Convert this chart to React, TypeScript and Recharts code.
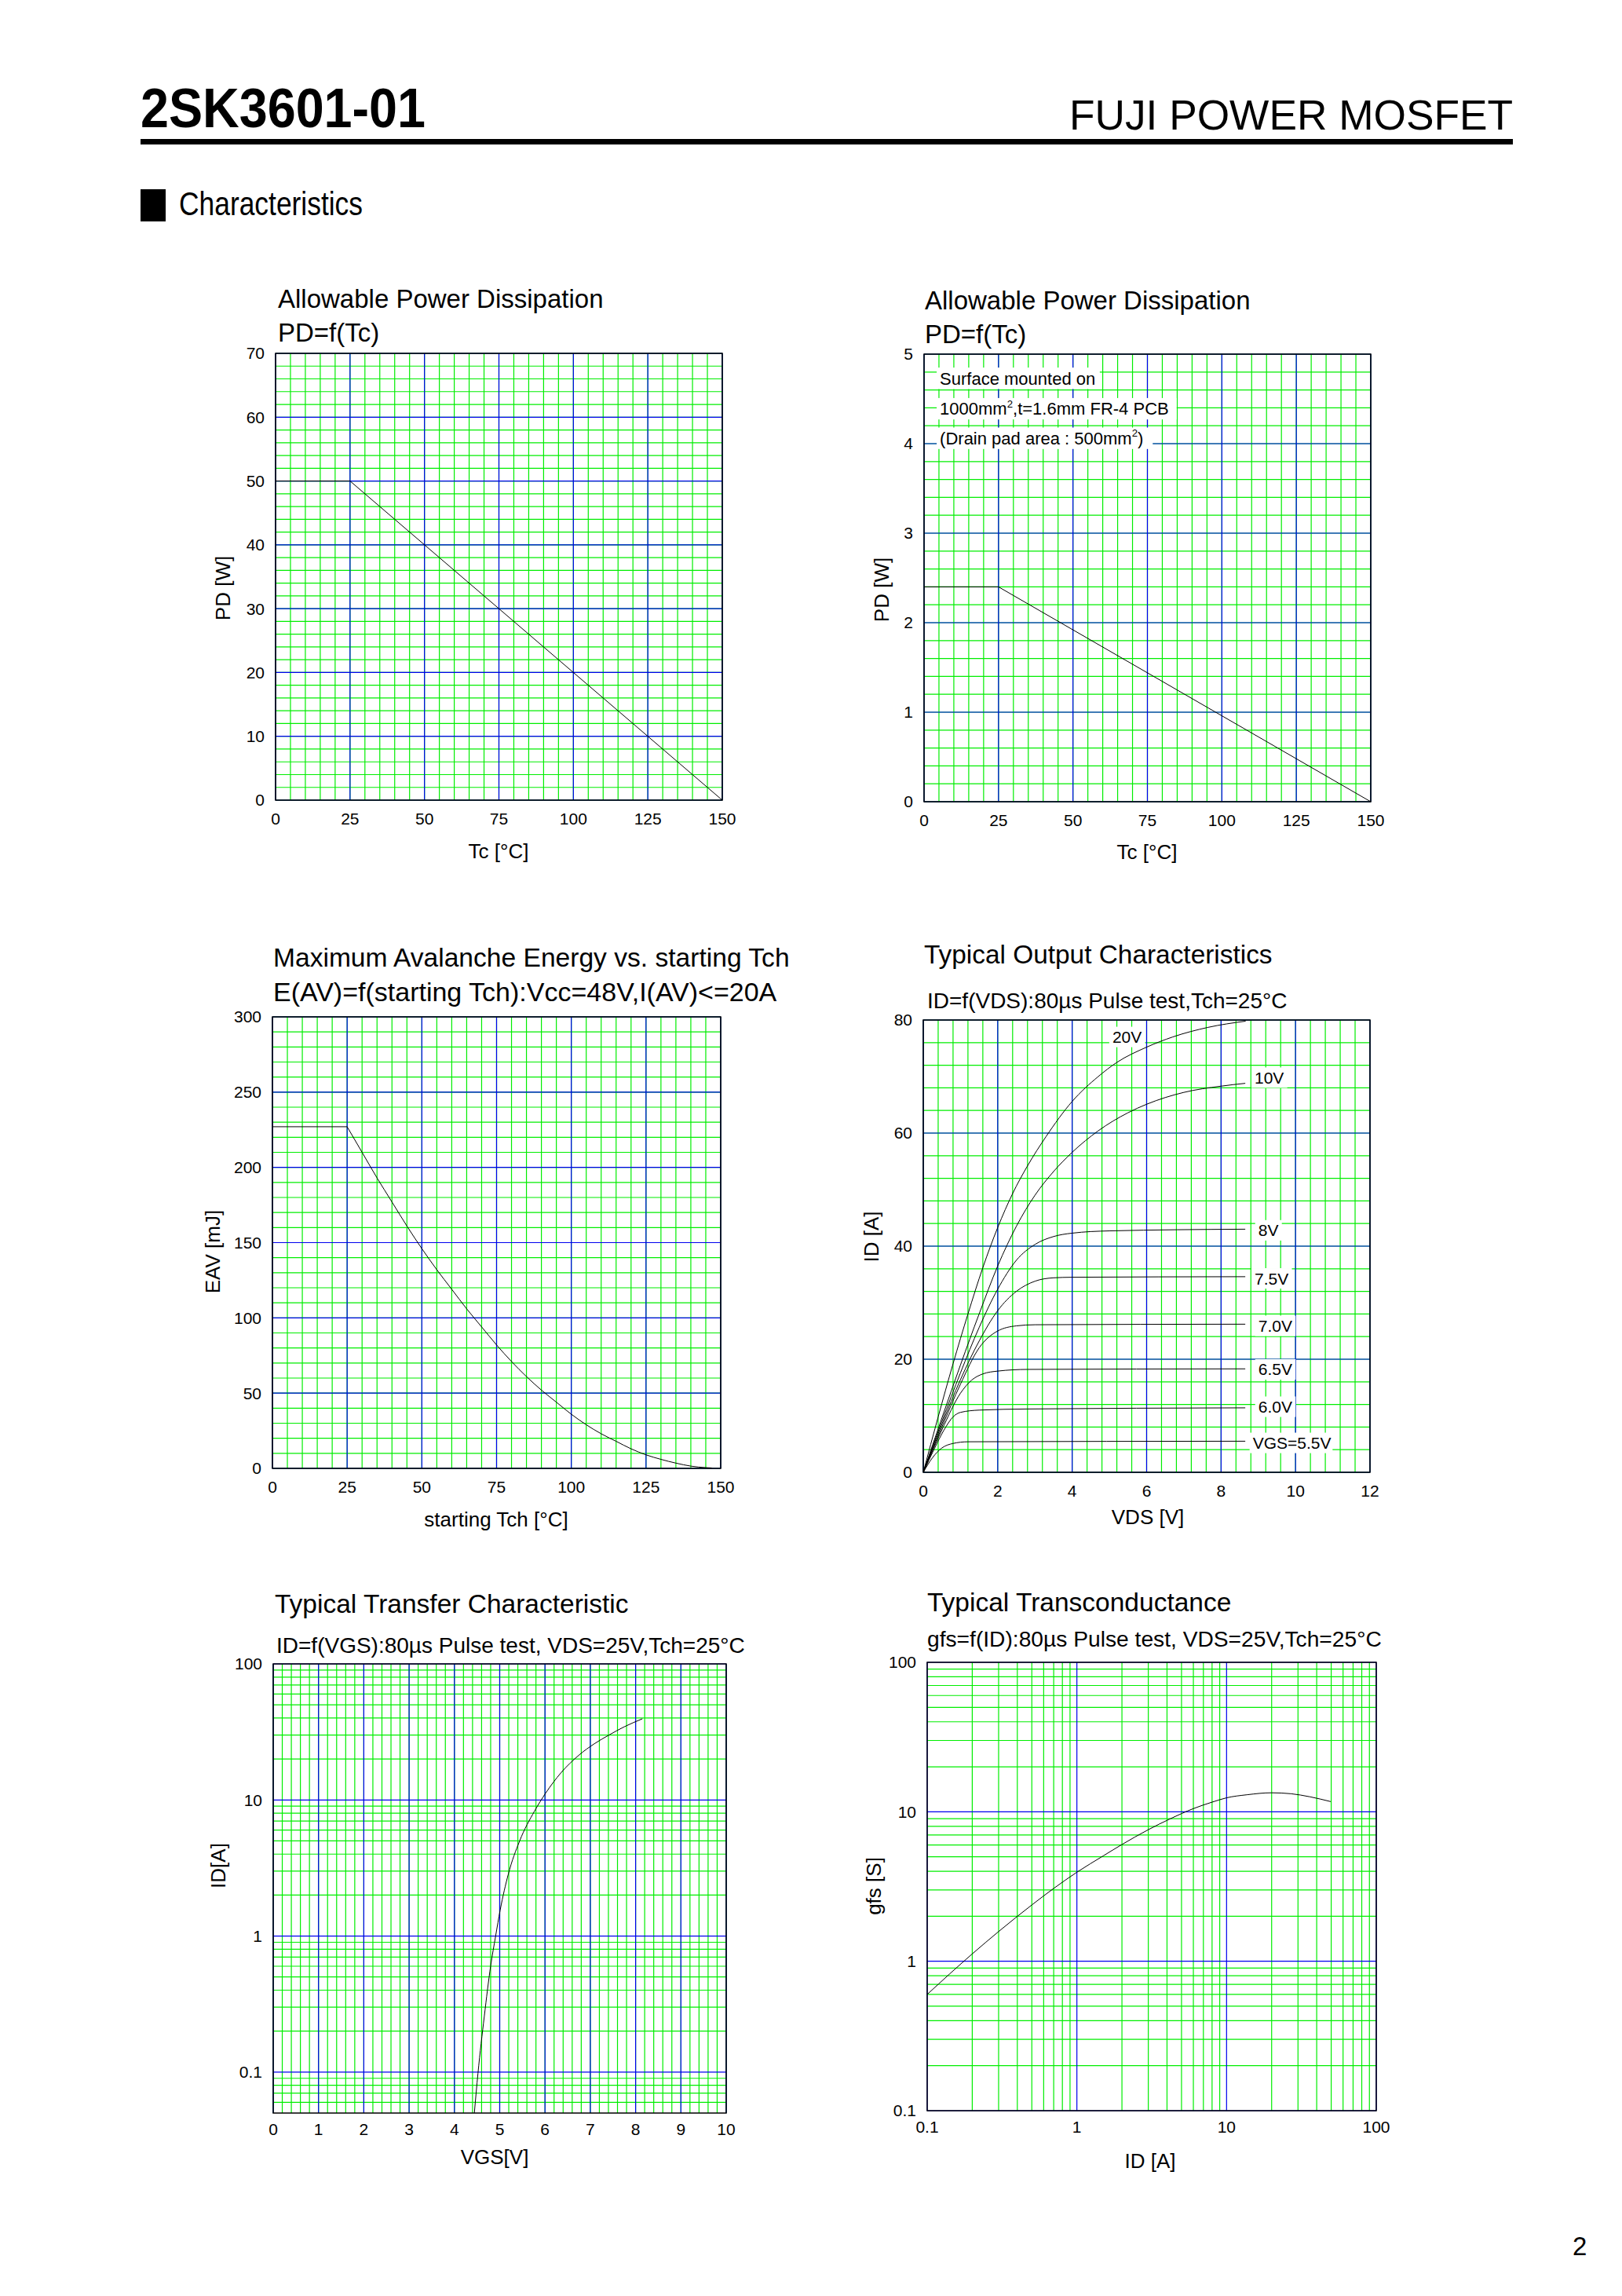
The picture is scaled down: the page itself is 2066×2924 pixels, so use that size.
import React from "react";
import {
  LineChart,
  Line,
  XAxis,
  YAxis,
  CartesianGrid,
  ReferenceArea,
  ReferenceDot,
} from "recharts";

// PD=f(Tc), case
const pdCaseTc = [0, 25, 150];
const pdCaseW = [50, 50, 0];

// PD=f(Tc), surface mounted on PCB
const pdPcbTc = [0, 25, 150];
const pdPcbW = [2.4, 2.4, 0];
const pcbNote = ["Surface mounted on", "1000mm^2,t=1.6mm FR-4 PCB", "(Drain pad area : 500mm^2)"];
const pcbNoteTc = 5.3;
const pcbNoteW = [4.73, 4.39, 4.06];

// E(AV)=f(starting Tch)
const eavFlatTch = [0, 25];
const eavFlatMj = [227, 227];
const eavTch = [25, 30, 35, 40, 45, 50, 55, 60, 65, 70, 75, 80, 85, 90, 95, 100, 105, 110, 115, 120, 125, 130, 135, 140, 145, 147];
const eavMj = [227, 210, 193, 177, 161, 146, 132, 119, 106, 94, 82, 71, 61, 52, 44, 36, 29, 23, 18, 13, 9, 6, 3.5, 1.5, 0.5, 0.3];

// ID=f(VDS), one pair per VGS
const vds20 = [0, 0.4, 0.8, 1.2, 1.6, 2.0, 2.4, 2.8, 3.3, 4, 4.7, 5.2, 6, 6.7, 7.65, 8.66];
const id20 = [0, 9.8, 19.2, 28, 36.2, 43.3, 49.3, 54.2, 59.4, 65.6, 70, 72.5, 75.2, 77, 78.7, 79.8];
const vds10 = [0, 0.5, 1, 1.5, 2, 2.5, 3, 3.5, 4, 4.7, 5.5, 6, 7, 8, 8.65];
const id10 = [0, 9.6, 19, 28, 36.5, 43.5, 49, 53.2, 56.6, 60.4, 63.6, 65.1, 67.2, 68.3, 68.8];
const vds8 = [0, 0.5, 1, 1.5, 2, 2.5, 3, 3.5, 4, 5, 8.65];
const id8 = [0, 9, 17.6, 25.6, 32.4, 37.5, 40.3, 41.7, 42.3, 42.7, 43];
const vds75 = [0, 0.5, 1, 1.5, 2, 2.5, 3, 3.5, 4, 8.65];
const id75 = [0, 8.5, 16.4, 23.2, 28.6, 32, 33.8, 34.4, 34.5, 34.6];
const vds70 = [0, 0.5, 1, 1.5, 2, 2.5, 3, 8.65];
const id70 = [0, 8, 15.6, 22, 25, 25.9, 26.1, 26.2];
const vds65 = [0, 0.5, 1, 1.3, 1.6, 2, 2.8, 8.65];
const id65 = [0, 7.5, 14, 16.3, 17.4, 17.9, 18.2, 18.3];
const vds60 = [0, 0.3, 0.55, 0.8, 1, 1.5, 2.8, 8.65];
const id60 = [0, 4.2, 7.4, 9.8, 10.6, 11, 11.2, 11.4];
const vds55 = [0, 0.25, 0.5, 0.8, 1.2, 8.65];
const id55 = [0, 2.6, 4.3, 5.1, 5.4, 5.5];
const outLabels = ["20V", "10V", "8V", "7.5V", "7.0V", "6.5V", "6.0V", "VGS=5.5V"];
const outLabelVds = [5.08, 8.9, 9.0, 8.9, 9.0, 9.0, 9.0, 8.85];
const outLabelId = [77.0, 69.8, 42.8, 34.3, 25.9, 18.2, 11.6, 5.2];

// ID=f(VGS)
const vgsT = [4.44, 4.52, 4.66, 4.8, 4.91, 5.01, 5.19, 5.44, 5.77, 6.02, 6.35, 6.76, 7.09, 7.42, 7.75, 8.15];
const idT = [0.05, 0.098, 0.257, 0.603, 1.0, 1.55, 2.85, 5.0, 8.3, 11.3, 15.8, 21.5, 25.9, 30.1, 34.5, 39.5];

// gfs=f(ID)
const idG = [0.1, 0.2, 0.3, 0.5, 0.7, 1, 1.5, 2, 3, 4.2, 6, 8, 10, 13.7, 20, 27, 36, 49.6];
const gfsG = [0.6, 1.12, 1.58, 2.38, 3.07, 3.94, 5.07, 6.04, 7.59, 8.97, 10.5, 11.6, 12.4, 13.0, 13.4, 13.2, 12.6, 11.7];

// tick labels
const tcTicks = [0, 25, 50, 75, 100, 125, 150];
const pdCaseTicks = [0, 10, 20, 30, 40, 50, 60, 70];
const pdPcbTicks = [0, 1, 2, 3, 4, 5];
const eavTicks = [0, 50, 100, 150, 200, 250, 300];
const vdsTicks = [0, 2, 4, 6, 8, 10, 12];
const idOutTicks = [0, 20, 40, 60, 80];
const vgsTicks = [0, 1, 2, 3, 4, 5, 6, 7, 8, 9, 10];
const decadeTicks = [0.1, 1, 10, 100];

const GREEN = "#00ee00";
const BLUE = "#0000ee";
const FONT = "'Liberation Sans', Arial, Helvetica, sans-serif";

const zip = (xs: number[], ys: number[]) => xs.map((x, i) => ({ x, y: ys[i] }));

const steps = (from: number, to: number, step: number) => {
  const out: number[] = [];
  for (let i = 0; from + i * step <= to + 1e-9; i++) out.push(+(from + i * step).toFixed(6));
  return out;
};

const logMinor = (lo: number, hi: number, min: number) => {
  const out: number[] = [];
  for (let d = lo; d < hi; d *= 10)
    for (let k = 2; k <= 9; k++) {
      const v = +(d * k).toPrecision(6);
      if (v > min && v < hi) out.push(v);
    }
  return out;
};

const textWidth = (s: string, fs: number) => {
  let w = 0;
  for (const c of s) {
    if (/[0-9]/.test(c)) w += 0.556;
    else if (/[MW]/.test(c)) w += 0.85;
    else if (/[A-Z]/.test(c)) w += 0.68;
    else if (/[mw]/.test(c)) w += 0.8;
    else if (/[iljtf.,:;()\[\] ]/.test(c)) w += 0.28;
    else if (c === "^") w += 0;
    else w += 0.54;
  }
  return w * fs;
};

// white-backed text tag drawn at a data point
const tagShape = (text: string, fs: number) => (props: any) => {
  const { cx, cy } = props;
  const w = textWidth(text, fs);
  const parts = text.split("^");
  return (
    <g>
      <rect x={cx - 4} y={cy - fs * 0.62} width={w + 8} height={fs * 1.24} fill="#fff" />
      <text x={cx} y={cy + fs * 0.358} fontSize={fs} fontFamily={FONT} fill="#000">
        <tspan>{parts[0]}</tspan>
        {parts.slice(1).map((p, i) => (
          <React.Fragment key={i}>
            <tspan fontSize={fs * 0.6} dy={-fs * 0.45}>{p[0]}</tspan>
            <tspan dy={fs * 0.45}>{p.slice(1)}</tspan>
          </React.Fragment>
        ))}
      </text>
    </g>
  );
};

type Box = { left: number; top: number; right: number; bottom: number };

const ML = 100;
const MR = 30;
const MT = 24;
const MB = 90;
const tickStyle = { fontSize: 21, fill: "#000", fontFamily: FONT };

type FrameProps = {
  box: Box;
  xDomain: [number, number];
  yDomain: [number, number];
  xTicks: number[];
  yTicks: number[];
  xMinor: number[];
  xMajor: number[];
  yMinor: number[];
  yMajor: number[];
  xLog?: boolean;
  yLog?: boolean;
  xTickMargin?: number;
  children?: React.ReactNode;
};

function Frame(p: FrameProps) {
  const w = p.box.right - p.box.left + ML + MR;
  const h = p.box.bottom - p.box.top + MT + MB;
  return (
    <div style={{ position: "absolute", left: p.box.left - ML, top: p.box.top - MT }}>
      <LineChart width={w} height={h} margin={{ top: MT, right: MR, bottom: 0, left: 0 }}>
        <CartesianGrid stroke={GREEN} strokeWidth={1.2} horizontalValues={p.yMinor} verticalValues={p.xMinor} />
        <CartesianGrid stroke={BLUE} strokeWidth={1.2} horizontalValues={p.yMajor} verticalValues={p.xMajor} />
        <XAxis
          dataKey="x"
          type="number"
          scale={p.xLog ? "log" : "linear"}
          domain={p.xDomain}
          ticks={p.xTicks}
          interval={0}
          allowDataOverflow
          axisLine={false}
          tickLine={false}
          height={MB}
          tickMargin={p.xTickMargin ?? 10}
          tick={tickStyle}
        />
        <YAxis
          type="number"
          scale={p.yLog ? "log" : "linear"}
          domain={p.yDomain}
          ticks={p.yTicks}
          interval={0}
          allowDataOverflow
          axisLine={false}
          tickLine={false}
          width={ML}
          tickMargin={8}
          tick={tickStyle}
        />
        <ReferenceArea
          x1={p.xDomain[0]}
          x2={p.xDomain[1]}
          y1={p.yDomain[0]}
          y2={p.yDomain[1]}
          fill="none"
          fillOpacity={0}
          stroke="#000"
          strokeWidth={1.5}
          ifOverflow="visible"
        />
        {p.children}
      </LineChart>
    </div>
  );
}

const curve = (key: string, xs: number[], ys: number[], type: "linear" | "monotone" = "monotone") => (
  <Line
    key={key}
    data={zip(xs, ys)}
    dataKey="y"
    type={type}
    stroke="#000"
    strokeWidth={1}
    dot={false}
    activeDot={false}
    isAnimationActive={false}
  />
);

const tcMinor = steps(0, 150, 5);
const tcMajor = steps(0, 150, 25);

type T = { x: number; y: number; s: string; fs?: number; bold?: boolean; len?: number };
const texts: T[] = [
  { x: 179, y: 162, s: "2SK3601-01", fs: 70, bold: true, len: 363 },
  { x: 1362, y: 165, s: "FUJI POWER MOSFET", fs: 53, len: 565 },
  { x: 228, y: 274, s: "Characteristics", fs: 42, len: 234 },
  { x: 2003, y: 2872, s: "2", fs: 33 },
  { x: 354, y: 392, s: "Allowable Power Dissipation", fs: 33 },
  { x: 354, y: 435, s: "PD=f(Tc)", fs: 33 },
  { x: 1178, y: 394, s: "Allowable Power Dissipation", fs: 33 },
  { x: 1178, y: 437, s: "PD=f(Tc)", fs: 33 },
  { x: 348, y: 1231, s: "Maximum Avalanche Energy vs. starting Tch", fs: 33.6 },
  { x: 348, y: 1275, s: "E(AV)=f(starting Tch):Vcc=48V,I(AV)<=20A", fs: 34 },
  { x: 1177, y: 1227, s: "Typical Output Characteristics", fs: 33.4 },
  { x: 1181, y: 1284, s: "ID=f(VDS):80µs Pulse test,Tch=25°C", fs: 28 },
  { x: 350, y: 2054, s: "Typical Transfer Characteristic", fs: 33.5 },
  { x: 352, y: 2105, s: "ID=f(VGS):80µs Pulse test, VDS=25V,Tch=25°C", fs: 28 },
  { x: 1181, y: 2052, s: "Typical Transconductance", fs: 33.5 },
  { x: 1181, y: 2097, s: "gfs=f(ID):80µs Pulse test, VDS=25V,Tch=25°C", fs: 28.2 },
];

type AxT = { x: number; y: number; s: string; rot?: boolean };
const axisTitles: AxT[] = [
  { x: 284, y: 749, s: "PD [W]", rot: true },
  { x: 635, y: 1084, s: "Tc [°C]" },
  { x: 1123, y: 751, s: "PD [W]", rot: true },
  { x: 1461, y: 1085, s: "Tc [°C]" },
  { x: 271, y: 1594, s: "EAV [mJ]", rot: true },
  { x: 632, y: 1935, s: "starting Tch [°C]" },
  { x: 1110, y: 1575, s: "ID [A]", rot: true },
  { x: 1462, y: 1932, s: "VDS [V]" },
  { x: 278, y: 2376, s: "ID[A]", rot: true },
  { x: 630, y: 2747, s: "VGS[V]" },
  { x: 1113, y: 2402, s: "gfs [S]", rot: true },
  { x: 1465, y: 2752, s: "ID [A]" },
];

export default function App() {
  const AX = 26;
  return (
    <div
      style={{
        position: "absolute",
        left: 0,
        top: 0,
        width: 2066,
        height: 2924,
        background: "#fff",
        fontFamily: FONT,
      }}
    >
      <Frame
        box={{ left: 351, top: 450, right: 920, bottom: 1019 }}
        xDomain={[0, 150]}
        yDomain={[0, 70]}
        xTicks={tcTicks}
        yTicks={pdCaseTicks}
        xMinor={tcMinor}
        xMajor={tcMajor}
        yMinor={steps(0, 70, 2)}
        yMajor={steps(0, 70, 10)}
      >
        {curve("pd-case", pdCaseTc, pdCaseW, "linear")}
      </Frame>

      <Frame
        box={{ left: 1177, top: 451, right: 1746, bottom: 1021 }}
        xDomain={[0, 150]}
        yDomain={[0, 5]}
        xTicks={tcTicks}
        yTicks={pdPcbTicks}
        xMinor={tcMinor}
        xMajor={tcMajor}
        yMinor={steps(0, 5, 0.2)}
        yMajor={steps(0, 5, 1)}
      >
        {curve("pd-pcb", pdPcbTc, pdPcbW, "linear")}
        {pcbNote.map((s, i) => (
          <ReferenceDot key={s} x={pcbNoteTc} y={pcbNoteW[i]} r={0} ifOverflow="visible" shape={tagShape(s, 22)} />
        ))}
      </Frame>

      <Frame
        box={{ left: 347, top: 1295, right: 918, bottom: 1870 }}
        xDomain={[0, 150]}
        yDomain={[0, 300]}
        xTicks={tcTicks}
        yTicks={eavTicks}
        xMinor={tcMinor}
        xMajor={tcMajor}
        yMinor={steps(0, 300, 10)}
        yMajor={steps(0, 300, 50)}
      >
        {curve("eav-flat", eavFlatTch, eavFlatMj, "linear")}
        {curve("eav", eavTch, eavMj)}
      </Frame>

      <Frame
        box={{ left: 1176, top: 1299, right: 1745, bottom: 1875 }}
        xDomain={[0, 12]}
        yDomain={[0, 80]}
        xTicks={vdsTicks}
        yTicks={idOutTicks}
        xMinor={steps(0, 12, 0.4)}
        xMajor={steps(0, 12, 2)}
        yMinor={steps(0, 80, 4)}
        yMajor={steps(0, 80, 20)}
      >
        {curve("v20", vds20, id20)}
        {curve("v10", vds10, id10)}
        {curve("v8", vds8, id8)}
        {curve("v75", vds75, id75)}
        {curve("v70", vds70, id70)}
        {curve("v65", vds65, id65)}
        {curve("v60", vds60, id60)}
        {curve("v55", vds55, id55)}
        {outLabels.map((s, i) => (
          <ReferenceDot key={s} x={outLabelVds[i]} y={outLabelId[i]} r={0} ifOverflow="visible" shape={tagShape(s, 21)} />
        ))}
      </Frame>

      <Frame
        box={{ left: 348, top: 2119, right: 925, bottom: 2691 }}
        xDomain={[0, 10]}
        yDomain={[0.05, 100]}
        yLog
        xTickMargin={7}
        xTicks={vgsTicks}
        yTicks={decadeTicks}
        xMinor={steps(0, 10, 0.2)}
        xMajor={steps(0, 10, 1)}
        yMinor={logMinor(0.01, 100, 0.05)}
        yMajor={decadeTicks}
      >
        {curve("transfer", vgsT, idT)}
      </Frame>

      <Frame
        box={{ left: 1181, top: 2117, right: 1753, bottom: 2688 }}
        xDomain={[0.1, 100]}
        yDomain={[0.1, 100]}
        xLog
        yLog
        xTickMargin={7}
        xTicks={decadeTicks}
        yTicks={decadeTicks}
        xMinor={logMinor(0.1, 100, 0.1)}
        xMajor={decadeTicks}
        yMinor={logMinor(0.1, 100, 0.1)}
        yMajor={decadeTicks}
      >
        {curve("gfs", idG, gfsG)}
      </Frame>

      <svg
        width={2066}
        height={2924}
        style={{ position: "absolute", left: 0, top: 0, pointerEvents: "none" }}
      >
        <rect x={179} y={177} width={1748} height={7} fill="#000" />
        <rect x={179} y={241} width={32} height={41} fill="#000" />
        {texts.map((t, i) => (
          <text
            key={i}
            x={t.x}
            y={t.y}
            fontSize={t.fs}
            fontWeight={t.bold ? "bold" : "normal"}
            fontFamily={FONT}
            fill="#000"
            textLength={t.len}
            lengthAdjust={t.len ? "spacingAndGlyphs" : undefined}
          >
            {t.s}
          </text>
        ))}
        {axisTitles.map((a, i) => (
          <text
            key={"ax" + i}
            transform={`translate(${a.x},${a.y})${a.rot ? " rotate(-90)" : ""}`}
            textAnchor="middle"
            dy={AX * 0.358}
            fontSize={AX}
            fontFamily={FONT}
            fill="#000"
          >
            {a.s}
          </text>
        ))}
      </svg>
    </div>
  );
}
